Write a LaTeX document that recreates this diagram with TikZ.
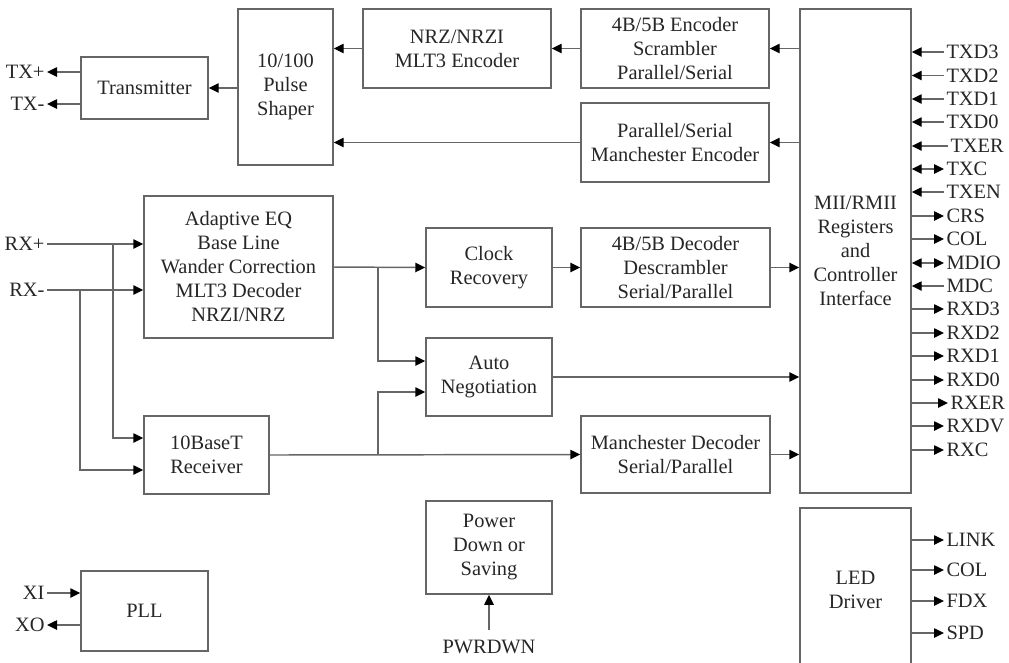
\documentclass[tikz,border=0pt]{standalone}
\usepackage{fontspec}
\setmainfont{Liberation Serif}
\usetikzlibrary{arrows.meta,calc}

\tikzset{every picture/.style={line width=0.75pt}}
\tikzset{
  blk/.style={draw=black!60, line width=1.1pt, align=center, inner sep=0pt,
    text=black!85, font=\fontsize{15.3}{18}\selectfont},
  sz/.style 2 args={minimum width=0.75pt*#1, minimum height=0.75pt*#2},
  arr/.style={draw=black!60, line width=1.1pt, -{Triangle[length=7.5pt,width=7pt,color=black]}},
  dbl/.style={draw=black!60, line width=1.1pt, {Triangle[length=7.5pt,width=7pt,color=black]}-{Triangle[length=7.5pt,width=7pt,color=black]}},
  sig/.style={inner sep=1.5pt, text=black!85, font=\fontsize{15.3}{18}\selectfont},
}

\begin{document}
\begin{tikzpicture}[x=0.75pt,y=0.75pt,yscale=-1,xscale=1]
\useasboundingbox (0,0) rectangle (1009,662);

%Shape: Rectangle
\node[blk, sz={127}{62}] (xmit) at (144.5,88) {Transmitter};
%Shape: Rectangle
\node[blk, sz={95}{156}] (pulse) at (285.5,87) {10/100\\Pulse\\Shaper};
%Shape: Rectangle
\node[blk, sz={188}{79}] (nrz) at (457,48.5) {NRZ/NRZI\\MLT3 Encoder};
%Shape: Rectangle
\node[blk, sz={188}{79}] (enc45) at (675,48.5) {4B/5B Encoder\\Scrambler\\Parallel/Serial};
%Shape: Rectangle
\node[blk, sz={188}{79}] (manenc) at (675,142.5) {Parallel/Serial\\Manchester Encoder};
%Shape: Rectangle
\node[blk, sz={111}{484}] (mii) at (855.5,251) {MII/RMII\\Registers\\and\\Controller\\Interface};
%Shape: Rectangle
\node[blk, sz={111}{164}] (led) at (855.5,590) {LED\\Driver};
%Shape: Rectangle
\node[blk, sz={189}{142}] (eq) at (238.5,267) {Adaptive EQ\\Base Line\\Wander Correction\\MLT3 Decoder\\NRZI/NRZ};
%Shape: Rectangle
\node[blk, sz={125}{78}] (rx10) at (206.5,455) {10BaseT\\Receiver};
%Shape: Rectangle
\node[blk, sz={126}{79}] (clk) at (489,267.5) {Clock\\Recovery};
%Shape: Rectangle
\node[blk, sz={189}{79}] (dec45) at (675.5,267.5) {4B/5B Decoder\\Descrambler\\Serial/Parallel};
%Shape: Rectangle
\node[blk, sz={126}{78}] (auto) at (489,377) {Auto\\Negotiation};
%Shape: Rectangle
\node[blk, sz={189}{77}] (mandec) at (675.5,454.5) {Manchester Decoder\\Serial/Parallel};
%Shape: Rectangle
\node[blk, sz={126}{93}] (pwr) at (489,547.5) {Power\\Down or\\Saving};
%Shape: Rectangle
\node[blk, sz={127}{80}] (pll) at (144.5,611) {PLL};

% Text Node
\node[sig, anchor=east] (txp) at (47,72) {TX+};
% Text Node
\node[sig, anchor=east] (txm) at (47,104) {TX-};
% Text Node
\node[sig, anchor=east] (rxp) at (47,244) {RX+};
% Text Node
\node[sig, anchor=east] (rxm) at (47,290) {RX-};
% Text Node
\node[sig, anchor=east] (xi) at (47,593) {XI};
% Text Node
\node[sig, anchor=east] (xo) at (47,625) {XO};
% Text Node
\node[sig] (pwrdwn) at (489,647) {PWRDWN};

% Text Node
\node[sig, anchor=west] (txd3) at (944,52) {TXD3};
\node[sig, anchor=west] (txd2) at (944,75.5) {TXD2};
\node[sig, anchor=west] (txd1) at (944,99) {TXD1};
\node[sig, anchor=west] (txd0) at (944,122) {TXD0};
\node[sig, anchor=west] (txer) at (948,146) {TXER};
\node[sig, anchor=west] (txc) at (944,169) {TXC};
\node[sig, anchor=west] (txen) at (944,192) {TXEN};
\node[sig, anchor=west] (crs) at (944,216) {CRS};
\node[sig, anchor=west] (col) at (944,239) {COL};
\node[sig, anchor=west] (mdio) at (944,263) {MDIO};
\node[sig, anchor=west] (mdc) at (944,286) {MDC};
\node[sig, anchor=west] (rxd3) at (944,309) {RXD3};
\node[sig, anchor=west] (rxd2) at (944,333) {RXD2};
\node[sig, anchor=west] (rxd1) at (944,356) {RXD1};
\node[sig, anchor=west] (rxd0) at (944,380) {RXD0};
\node[sig, anchor=west] (rxer) at (948,403) {RXER};
\node[sig, anchor=west] (rxdv) at (944,426) {RXDV};
\node[sig, anchor=west] (rxc) at (944,450) {RXC};
% Text Node
\node[sig, anchor=west] (link) at (944,540) {LINK};
\node[sig, anchor=west] (lcol) at (944,570) {COL};
\node[sig, anchor=west] (fdx) at (944,601) {FDX};
\node[sig, anchor=west] (spd) at (944,633) {SPD};

%Straight Lines
\draw[arr] (mii.west |- enc45.east) -- (enc45.east);
\draw[arr] (enc45.west) -- (nrz.east);
\draw[arr] (nrz.west) -- (pulse.east |- nrz.west);
\draw[arr] (mii.west |- manenc.east) -- (manenc.east);
\draw[arr] (manenc.west) -- (pulse.east |- manenc.west);
\draw[arr] (pulse.west |- xmit.east) -- (xmit.east);
\draw[arr] (xmit.west |- txp.east) -- (txp.east);
\draw[arr] (xmit.west |- txm.east) -- (txm.east);

%Straight Lines
\draw[arr] (rxp.east) -- (eq.west |- rxp.east);
\draw[arr] (rxm.east) -- (eq.west |- rxm.east);
\coordinate (rxpb) at (113,244);
\coordinate (rxmb) at (80,290);
\draw[arr] (rxpb) |- ($(rx10.west)+(0,-17)$);
\draw[arr] (rxmb) |- ($(rx10.west)+(0,15)$);
\coordinate (eqb) at (378,267);
\coordinate (rxb) at (378,455);
\draw[arr] (eq.east) -- (clk.west);
\draw[arr] (eqb) |- ($(auto.west)+(0,-16)$);
\draw[arr] (rx10.east) -- (mandec.west);
\draw[arr] (rxb) |- ($(auto.west)+(0,15)$);
\draw[arr] (clk.east) -- (dec45.west);
\draw[arr] (dec45.east) -- (mii.west |- dec45.east);
\draw[arr] (auto.east) -- (mii.west |- auto.east);
\draw[arr] (mandec.east) -- (mii.west |- mandec.east);

%Straight Lines
\draw[arr] (xi.east) -- (pll.west |- xi.east);
\draw[arr] (pll.west |- xo.east) -- (xo.east);
\draw[arr] ($(pwrdwn.north)+(0,-8)$) -- (pwr.south);

%Straight Lines
\draw[arr] (txd3.west) -- (mii.east |- txd3.west);
\draw[arr] (txd2.west) -- (mii.east |- txd2.west);
\draw[arr] (txd1.west) -- (mii.east |- txd1.west);
\draw[arr] (txd0.west) -- (mii.east |- txd0.west);
\draw[arr] (txer.west) -- (mii.east |- txer.west);
\draw[dbl] (mii.east |- txc.west) -- (txc.west);
\draw[arr] (txen.west) -- (mii.east |- txen.west);
\draw[arr] (mii.east |- crs.west) -- (crs.west);
\draw[arr] (mii.east |- col.west) -- (col.west);
\draw[dbl] (mii.east |- mdio.west) -- (mdio.west);
\draw[arr] (mdc.west) -- (mii.east |- mdc.west);
\draw[arr] (mii.east |- rxd3.west) -- (rxd3.west);
\draw[arr] (mii.east |- rxd2.west) -- (rxd2.west);
\draw[arr] (mii.east |- rxd1.west) -- (rxd1.west);
\draw[arr] (mii.east |- rxd0.west) -- (rxd0.west);
\draw[arr] (mii.east |- rxer.west) -- (rxer.west);
\draw[arr] (mii.east |- rxdv.west) -- (rxdv.west);
\draw[arr] (mii.east |- rxc.west) -- (rxc.west);

%Straight Lines
\draw[arr] (led.east |- link.west) -- (link.west);
\draw[arr] (led.east |- lcol.west) -- (lcol.west);
\draw[arr] (led.east |- fdx.west) -- (fdx.west);
\draw[arr] (led.east |- spd.west) -- (spd.west);

\end{tikzpicture}
\end{document}
